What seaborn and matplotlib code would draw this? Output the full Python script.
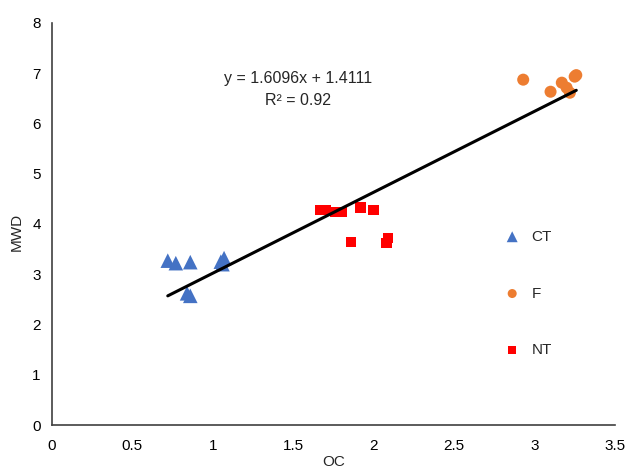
import matplotlib
matplotlib.use("Agg")
import matplotlib.pyplot as plt
import seaborn as sns
import numpy as np
import pandas as pd

sns.set_theme(style="white")
plt.rcParams['font.family'] = ['Liberation Sans', 'DejaVu Sans']

ct_x = [0.72, 0.77, 0.86, 1.05, 1.07, 1.06, 0.84, 0.86]
ct_y = [3.27, 3.22, 3.24, 3.25, 3.32, 3.20, 2.62, 2.57]
f_x = [2.93, 3.10, 3.17, 3.20, 3.25, 3.22, 3.26]
f_y = [6.87, 6.63, 6.81, 6.71, 6.93, 6.61, 6.96]
nt_x = [1.67, 1.70, 1.76, 1.80, 1.92, 2.00, 1.86, 2.08, 2.09]
nt_y = [4.28, 4.28, 4.24, 4.24, 4.32, 4.28, 3.64, 3.62, 3.72]
slope = 1.6096
intercept = 1.4111
r2 = 0.92
x_ticks = [0, 0.5, 1, 1.5, 2, 2.5, 3, 3.5]
y_ticks = [0, 1, 2, 3, 4, 5, 6, 7, 8]

df = pd.DataFrame({
    "OC": ct_x + f_x + nt_x,
    "MWD": ct_y + f_y + nt_y,
    "group": ["CT"] * len(ct_x) + ["F"] * len(f_x) + ["NT"] * len(nt_x),
})

fig = plt.figure(figsize=(6.3, 4.76), dpi=100)
ax = fig.add_axes([0.0825, 0.107, 0.8935, 0.845])

palette = {"CT": "#4472C4", "F": "#ED7D31", "NT": "#FF0000"}
markers = {"CT": "^", "F": "o", "NT": "s"}
sizes = {"CT": 110, "F": 75, "NT": 60}
for g in ["CT", "F", "NT"]:
    sub = df[df.group == g]
    sns.scatterplot(data=sub, x="OC", y="MWD", color=palette[g], marker=markers[g],
                    s=sizes[g], edgecolor="none", ax=ax, label=g, zorder=3)

xs = np.array([min(df.OC), max(df.OC)])
sns.lineplot(x=xs, y=slope * xs + intercept, color="black", linewidth=2.2, ax=ax,
             zorder=4, legend=False)

ax.set_xlim(0, 3.5)
ax.set_ylim(0, 8)
ax.set_xticks(x_ticks)
ax.set_xticklabels([f"{t:g}" for t in x_ticks])
ax.set_yticks(y_ticks)
ax.tick_params(axis="both", direction="in", length=4, width=1, labelsize=11,
               colors="#404040", labelcolor="black", pad=8)
ax.tick_params(axis="x", pad=10)
for s in ["top", "right"]:
    ax.spines[s].set_visible(False)
for s in ["left", "bottom"]:
    ax.spines[s].set_color("#404040")
    ax.spines[s].set_linewidth(1.2)

ax.set_xlabel("OC", fontsize=11, labelpad=6)
ax.set_ylabel("MWD", fontsize=11)
ax.yaxis.set_label_coords(-0.05, 0.48)
ax.xaxis.set_label_coords(0.5, -0.075)

ax.text(1.53, 6.9, f"y = {slope}x + {intercept}", fontsize=11.5, ha="center", va="center")
ax.text(1.53, 6.46, f"R² = {r2}", fontsize=11.5, ha="center", va="center")

leg = ax.legend(loc="center left", bbox_to_anchor=(0.766, 0.327), frameon=False,
                fontsize=11, labelspacing=2.8, handletextpad=0.25, markerscale=0.75)

fig.savefig("out.png", dpi=100)
